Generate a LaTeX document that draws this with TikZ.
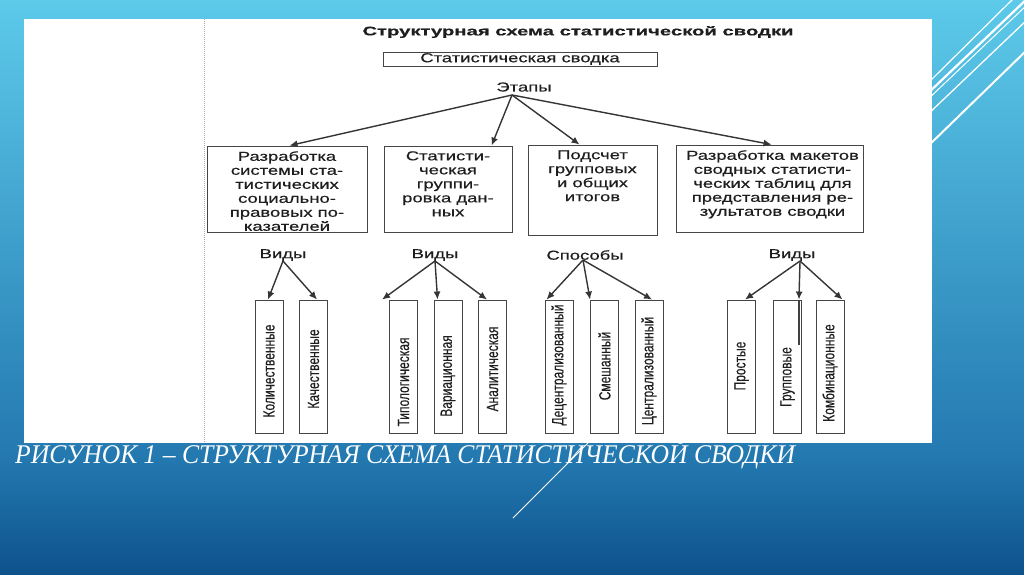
\documentclass[tikz,border=0pt]{standalone}
\usepackage{fontspec}
\usepackage{graphicx}
\usetikzlibrary{arrows.meta,calc}
\setmainfont{Liberation Serif}
\newfontfamily\dsans[FakeStretch=1.42,FakeBold=0.4]{Liberation Sans}
\newfontfamily\rsans[FakeBold=0.3]{Liberation Sans}
\definecolor{bgtop}{RGB}{93,202,234}
\definecolor{bgmid}{RGB}{35,120,176}
\definecolor{bgbot}{RGB}{14,82,140}
\definecolor{ink}{RGB}{30,30,30}
\definecolor{edge}{RGB}{70,70,70}
\pgfdeclareverticalshading{bgshade}{100bp}{color(0bp)=(bgbot); color(25bp)=(bgbot); color(35bp)=(bgmid); color(75bp)=(bgtop); color(100bp)=(bgtop)}
\begin{document}
\begin{tikzpicture}[x=1pt,y=-1pt,
  box/.style={draw=edge, line width=0.9pt, rectangle, inner sep=0pt},
  kbox/.style={box, minimum width=28pt, minimum height=133pt},
  arr/.style={draw=ink!90, line width=1.4pt, -{Latex[length=8pt,width=7pt]}},
  txt/.style={inner sep=0pt, text=ink, font=\dsans\fontsize{13}{14}\selectfont, align=center},
  rtxt/.style={inner sep=0pt, text=ink, font=\rsans\fontsize{12}{12}\selectfont},
  deco/.style={draw=white, line cap=butt}]
\useasboundingbox (0,0) rectangle (1024,574);
\shade[shading=bgshade] (0,0) rectangle (1024,574);
% decorative lines
\draw[deco, line width=1.2pt] (925,86) -- (1020,-8);
\draw[deco, line width=2.2pt] (925,96) -- (1030,-4);
\draw[deco, line width=1pt] (925,102) -- (1030,2);
\draw[deco, line width=1.3pt] (925,117) -- (1030,17);
\draw[deco, line width=2pt] (925,149) -- (1030,47);
\draw[deco, line width=1pt] (513,518) -- (600,431);
% panel
\fill[white] (24,19) rectangle (932,443);
\draw[gray!70, line width=0.7pt, dash pattern=on 1pt off 1pt] (204,19) -- (204,443);
% title
\node[inner sep=0pt, text=ink] (title) at (578,32) {\resizebox{431pt}{\height}{\rsans\bfseries\fontsize{12.5}{13}\selectfont Структурная схема статистической сводки}};
\node[box, txt, minimum width=274pt, minimum height=14pt] (sv) at (520,59) {Статистическая сводка};
\node[txt] (et) at (524,87) {Этапы};
\coordinate (ets) at (512,95);
% stage boxes
\node[box, minimum width=160pt, minimum height=86pt] (b1) at (287,189) {};
\node[box, minimum width=128pt, minimum height=86pt] (b2) at (448,189) {};
\node[box, minimum width=129pt, minimum height=90pt] (b3) at (592.5,190) {};
\node[box, minimum width=187pt, minimum height=87pt] (b4) at (769.5,188.5) {};
\node[txt, anchor=north] (b1t) at ([yshift=-5.5pt]b1.north) {Разработка\\системы ста-\\тистических\\социально-\\правовых по-\\казателей};
\node[txt, anchor=north] (b2t) at ([yshift=-5.5pt]b2.north) {Статисти-\\ческая\\группи-\\ровка дан-\\ных};
\node[txt, anchor=north] (b3t) at ([yshift=-5.5pt]b3.north) {Подсчет\\групповых\\и общих\\итогов};
\node[txt, anchor=north] (b4t) at ([xshift=3pt,yshift=-5.5pt]b4.north) {Разработка макетов\\сводных статисти-\\ческих таблиц для\\представления ре-\\зультатов сводки};
\draw[arr] (ets) -- ([xshift=83pt]b1.north west);
\draw[arr] (ets) -- ([xshift=108pt]b2.north west);
\draw[arr] (ets) -- ([xshift=52pt]b3.north west);
\draw[arr] (ets) -- ([xshift=96pt]b4.north west);
% second level labels
\node[txt] (v1) at (283,255) {Виды};
\node[txt] (v2) at (435,255) {Виды};
\node[txt] (sp) at (585,255) {Способы};
\node[txt] (v4) at (792,255) {Виды};
\coordinate (v1s) at (283,261);
\coordinate (v2s) at (435,261);
\coordinate (sps) at (583,260);
\coordinate (v4s) at (800,261);
% bottom boxes
\node[kbox] (k1) at (269,366.5) {};
\node[kbox] (k2) at (313.5,366.5) {};
\node[kbox] (t1) at (403.5,366.5) {};
\node[kbox] (t2) at (448,366.5) {};
\node[kbox] (t3) at (492.5,366.5) {};
\node[kbox] (s1) at (559,366.5) {};
\node[kbox] (s2) at (604.5,366.5) {};
\node[kbox] (s3) at (649,366.5) {};
\node[kbox] (p1) at (741.5,366.5) {};
\node[kbox] (p2) at (787.5,366.5) {};
\node[kbox] (p3) at (830,366.5) {};
\node[rtxt] (k1t) at (269,371) {\rotatebox{90}{\scalebox{1}[1.35]{Количественные}}};
\node[rtxt] (k2t) at (313.5,369) {\rotatebox{90}{\scalebox{1}[1.35]{Качественные}}};
\node[rtxt] (t1t) at (403.5,382) {\rotatebox{90}{\scalebox{1}[1.35]{Типологическая}}};
\node[rtxt] (t2t) at (448,376) {\rotatebox{90}{\scalebox{1}[1.35]{Вариационная}}};
\node[rtxt] (t3t) at (492.5,369) {\rotatebox{90}{\scalebox{1}[1.35]{Аналитическая}}};
\node[rtxt] (s1t) at (559,365) {\rotatebox{90}{\scalebox{1}[1.35]{Децентрализованный}}};
\node[rtxt] (s2t) at (604.5,366) {\rotatebox{90}{\scalebox{1}[1.35]{Смешанный}}};
\node[rtxt] (s3t) at (649,371) {\rotatebox{90}{\scalebox{1}[1.35]{Централизованный}}};
\node[rtxt] (p1t) at (741.5,366) {\rotatebox{90}{\scalebox{1}[1.35]{Простые}}};
\node[rtxt] (p2t) at (787.5,377) {\rotatebox{90}{\scalebox{1}[1.35]{Групповые}}};
\node[rtxt] (p3t) at (830,373) {\rotatebox{90}{\scalebox{1}[1.35]{Комбинационные}}};
% arrows to bottom boxes
\draw[arr] (v1s) -- ([xshift=-1pt]k1.north);
\draw[arr] (v1s) -- ([xshift=3.5pt]k2.north);
\draw[arr] (v2s) -- ([xshift=-7pt]t1.north west);
\draw[arr] (v2s) -- ([xshift=4pt]t2.north west);
\draw[arr] (v2s) -- ([xshift=-5.5pt]t3.north);
\draw[arr] (sps) -- ([xshift=2pt]s1.north west);
\draw[arr] (sps) -- (s2.north west);
\draw[arr] (sps) -- ([xshift=3pt]s3.north);
\draw[arr] (v4s) -- ([xshift=3.5pt]p1.north);
\draw[arr] (v4s) -- ([xshift=-3pt]p2.north east);
\draw[arr] (v4s) -- ([xshift=-2pt]p3.north east);
\draw[draw=ink!85, line width=1.1pt] ([xshift=-3pt]p2.north east) -- ++(0,45);
% caption
\node[anchor=base west, inner sep=0pt, text=white, font=\itshape\fontsize{27}{27}\selectfont] (cap) at (15,463) {\resizebox{780pt}{\height}{РИСУНОК 1 – СТРУКТУРНАЯ СХЕМА СТАТИСТИЧЕСКОЙ СВОДКИ}};
\end{tikzpicture}
\end{document}
